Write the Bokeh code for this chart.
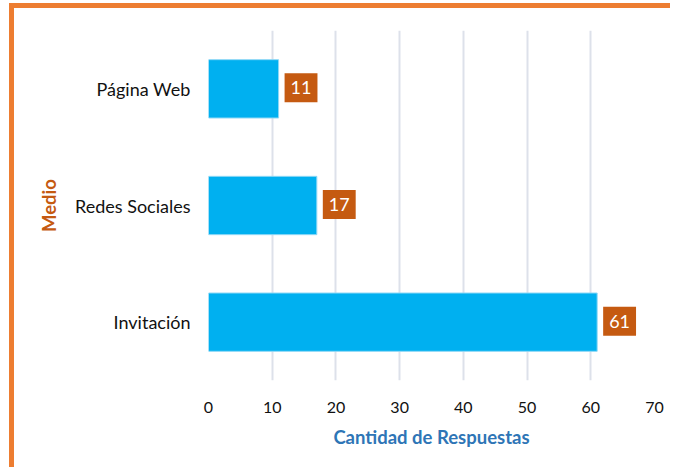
from bokeh.plotting import figure
from bokeh.models import ColumnDataSource, FactorRange, Range1d, FixedTicker
from bokeh.core.properties import value
from bokeh.embed import file_html
from bokeh.resources import INLINE

categories = ["Invitación", "Redes Sociales", "Página Web"]
counts = [61, 17, 11]
labels = [str(c) for c in counts]
x_ticks = [0, 10, 20, 30, 40, 50, 60, 70]

FONT = "Lato"

src = ColumnDataSource(dict(cat=categories, val=counts, lab=labels))

p = figure(width=661, height=464, output_backend="svg", toolbar_location=None,
           y_range=FactorRange(*categories, range_padding=0),
           x_range=Range1d(0, 70),
           min_border_left=194, min_border_right=21, min_border_top=22, min_border_bottom=92,
           margin=(8, 0, 0, 14),
           styles={"box-shadow": "-5px -5px 0px 0px #ED7D31"})
p.outline_line_color = None
p.background_fill_color = "white"
p.border_fill_color = "white"

p.hbar(y="cat", right="val", left=0, height=0.5, source=src,
       fill_color="#00B0F0", line_color="#8FD8F6", line_width=1)

p.text(x="val", y="cat", text="lab", source=src, x_offset=6, y_offset=-1, text_align="left",
       text_baseline="middle", text_color="white", text_font=value(FONT), text_font_size="18px",
       background_fill_color="#C55A11", padding=(6, 8))

p.xaxis.ticker = FixedTicker(ticks=x_ticks)
p.xaxis.axis_line_color = None
p.xaxis.major_tick_line_color = None
p.xaxis.minor_tick_line_color = None
p.xaxis.major_label_text_font = FONT
p.xaxis.major_label_text_font_size = "16px"
p.xaxis.major_label_text_color = "#111111"
p.xaxis.major_label_standoff = 15
p.xaxis.axis_label = "Cantidad de Respuestas"
p.xaxis.axis_label_text_font = FONT
p.xaxis.axis_label_text_font_size = "18.5px"
p.xaxis.axis_label_text_font_style = "bold"
p.xaxis.axis_label_text_color = "#2E75B6"
p.xaxis.axis_label_standoff = 10

p.yaxis.axis_line_color = None
p.yaxis.major_tick_line_color = None
p.yaxis.minor_tick_line_color = None
p.yaxis.major_label_text_font = FONT
p.yaxis.major_label_text_font_size = "18px"
p.yaxis.major_label_text_color = "#111111"
p.yaxis.major_label_standoff = 12
p.yaxis.axis_label = "Medio"
p.yaxis.axis_label_text_font = FONT
p.yaxis.axis_label_text_font_size = "18.5px"
p.yaxis.axis_label_text_font_style = "bold"
p.yaxis.axis_label_text_color = "#C55A11"
p.yaxis.axis_label_standoff = 12

p.xgrid.grid_line_color = "#DDE1EA"
p.xgrid.grid_line_width = 2
p.ygrid.grid_line_color = None

open("out.html", "w").write(file_html(p, INLINE))
